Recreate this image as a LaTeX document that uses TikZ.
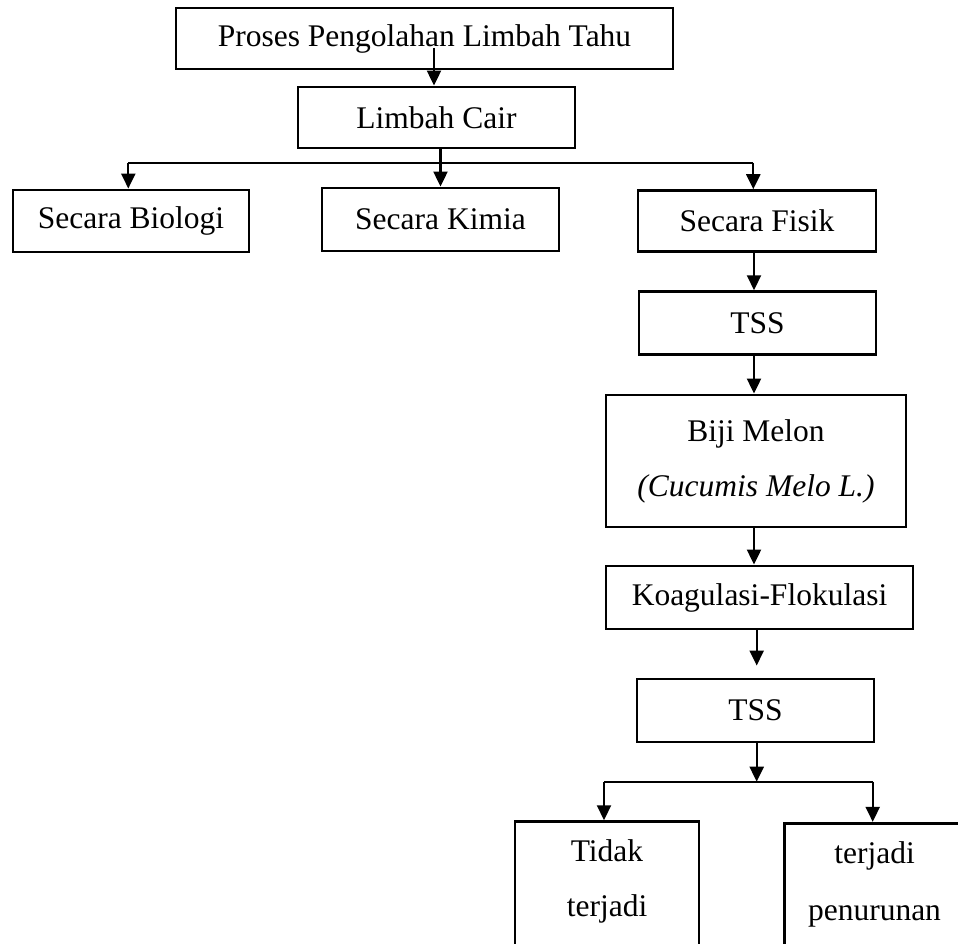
\documentclass[tikz,border=0pt]{standalone}
\usepackage{fontspec}
\setmainfont{Liberation Serif}
\usetikzlibrary{arrows.meta}
\begin{document}
\begin{tikzpicture}[x=1pt,y=-1pt,
  box/.style={draw, line width=2.9pt, inner sep=0pt, font=\fontsize{31.5pt}{55pt}\selectfont, align=center},
  txt/.style={inner sep=0pt, font=\fontsize{31.5pt}{55pt}\selectfont},
  conn/.style={line width=2.2pt},
  arr/.style={conn, -{Triangle[length=15pt,width=14pt]}}]
\useasboundingbox (0,0) rectangle (958,944);
\clip (0,0) rectangle (958,944);
% boxes
\node[box, minimum width=497pt, minimum height=61pt] (b1) at (424.5,38.5) {Proses Pengolahan Limbah Tahu};
\node[box, minimum width=277pt, minimum height=61pt] (b2) at (436.5,117.5) {Limbah Cair};
\node[box, minimum width=236pt, minimum height=62pt] (bio) at (131,221) {Secara Biologi};
\node[box, minimum width=237pt, minimum height=63pt] (kim) at (440.5,219.5) {Secara Kimia};
\node[box, minimum width=238pt, minimum height=61pt] (fis) at (757,221.2) {Secara Fisik};
\node[box, minimum width=237pt, minimum height=62.6pt] (tss1) at (757.5,323) {TSS};
\node[box, minimum width=300pt, minimum height=132pt] (biji) at (756,461) {Biji Melon\\\textit{(Cucumis Melo L.)}};
\node[box, minimum width=307pt, minimum height=63pt] (koag) at (759.5,597.5) {Koagulasi-Flokulasi};
\node[box, minimum width=237pt, minimum height=63pt] (tss2) at (755.5,710.5) {TSS};
\node[box, minimum width=184pt, minimum height=200pt] (tidak) at (607,921.7) {};
\node[box, minimum width=180.7pt, minimum height=200pt] (pen) at (874.6,923.3) {};
\node[txt, anchor=base] (tidak1) at (607,861.7) {Tidak};
\node[txt, anchor=base] (tidak2) at (607,916.7) {terjadi};
\node[txt, anchor=base] (pen1) at (874.5,863) {terjadi};
\node[txt, anchor=base] (pen2) at (874.5,920) {penurunan};
% junction coordinates
\coordinate (s0) at (434,48);
\coordinate (jl1) at (128.3,162.7);
\coordinate (jm1) at (440.5,162.7);
\coordinate (jr1) at (753.3,162.7);
\coordinate (cx) at (754,0);
\coordinate (j2) at (756.7,781.7);
\coordinate (jl2) at (604,781.7);
\coordinate (jr2) at (872.7,781.7);
% connectors
\draw[arr] (s0) -- (s0 |- b2.north);
\draw[conn] (b2.south -| jm1) -- (jm1);
\draw[conn] (jl1) -- (jr1);
\draw[arr] (jl1) -- (jl1 |- bio.north);
\draw[arr] (jm1) -- (jm1 |- kim.north);
\draw[arr] (jr1) -- (jr1 |- fis.north);
\draw[arr] (fis.south -| cx) -- (tss1.north -| cx);
\draw[arr] (tss1.south -| cx) -- (biji.north -| cx);
\draw[arr] (biji.south -| cx) -- (koag.north -| cx);
\draw[arr] (koag.south -| j2) -- ([yshift=12pt]tss2.north -| j2);
\draw[arr] (tss2.south -| j2) -- (j2);
\draw[conn] (jl2) -- (jr2);
\draw[arr] (jl2) -- (jl2 |- tidak.north);
\draw[arr] (jr2) -- (jr2 |- pen.north);
\end{tikzpicture}
\end{document}
